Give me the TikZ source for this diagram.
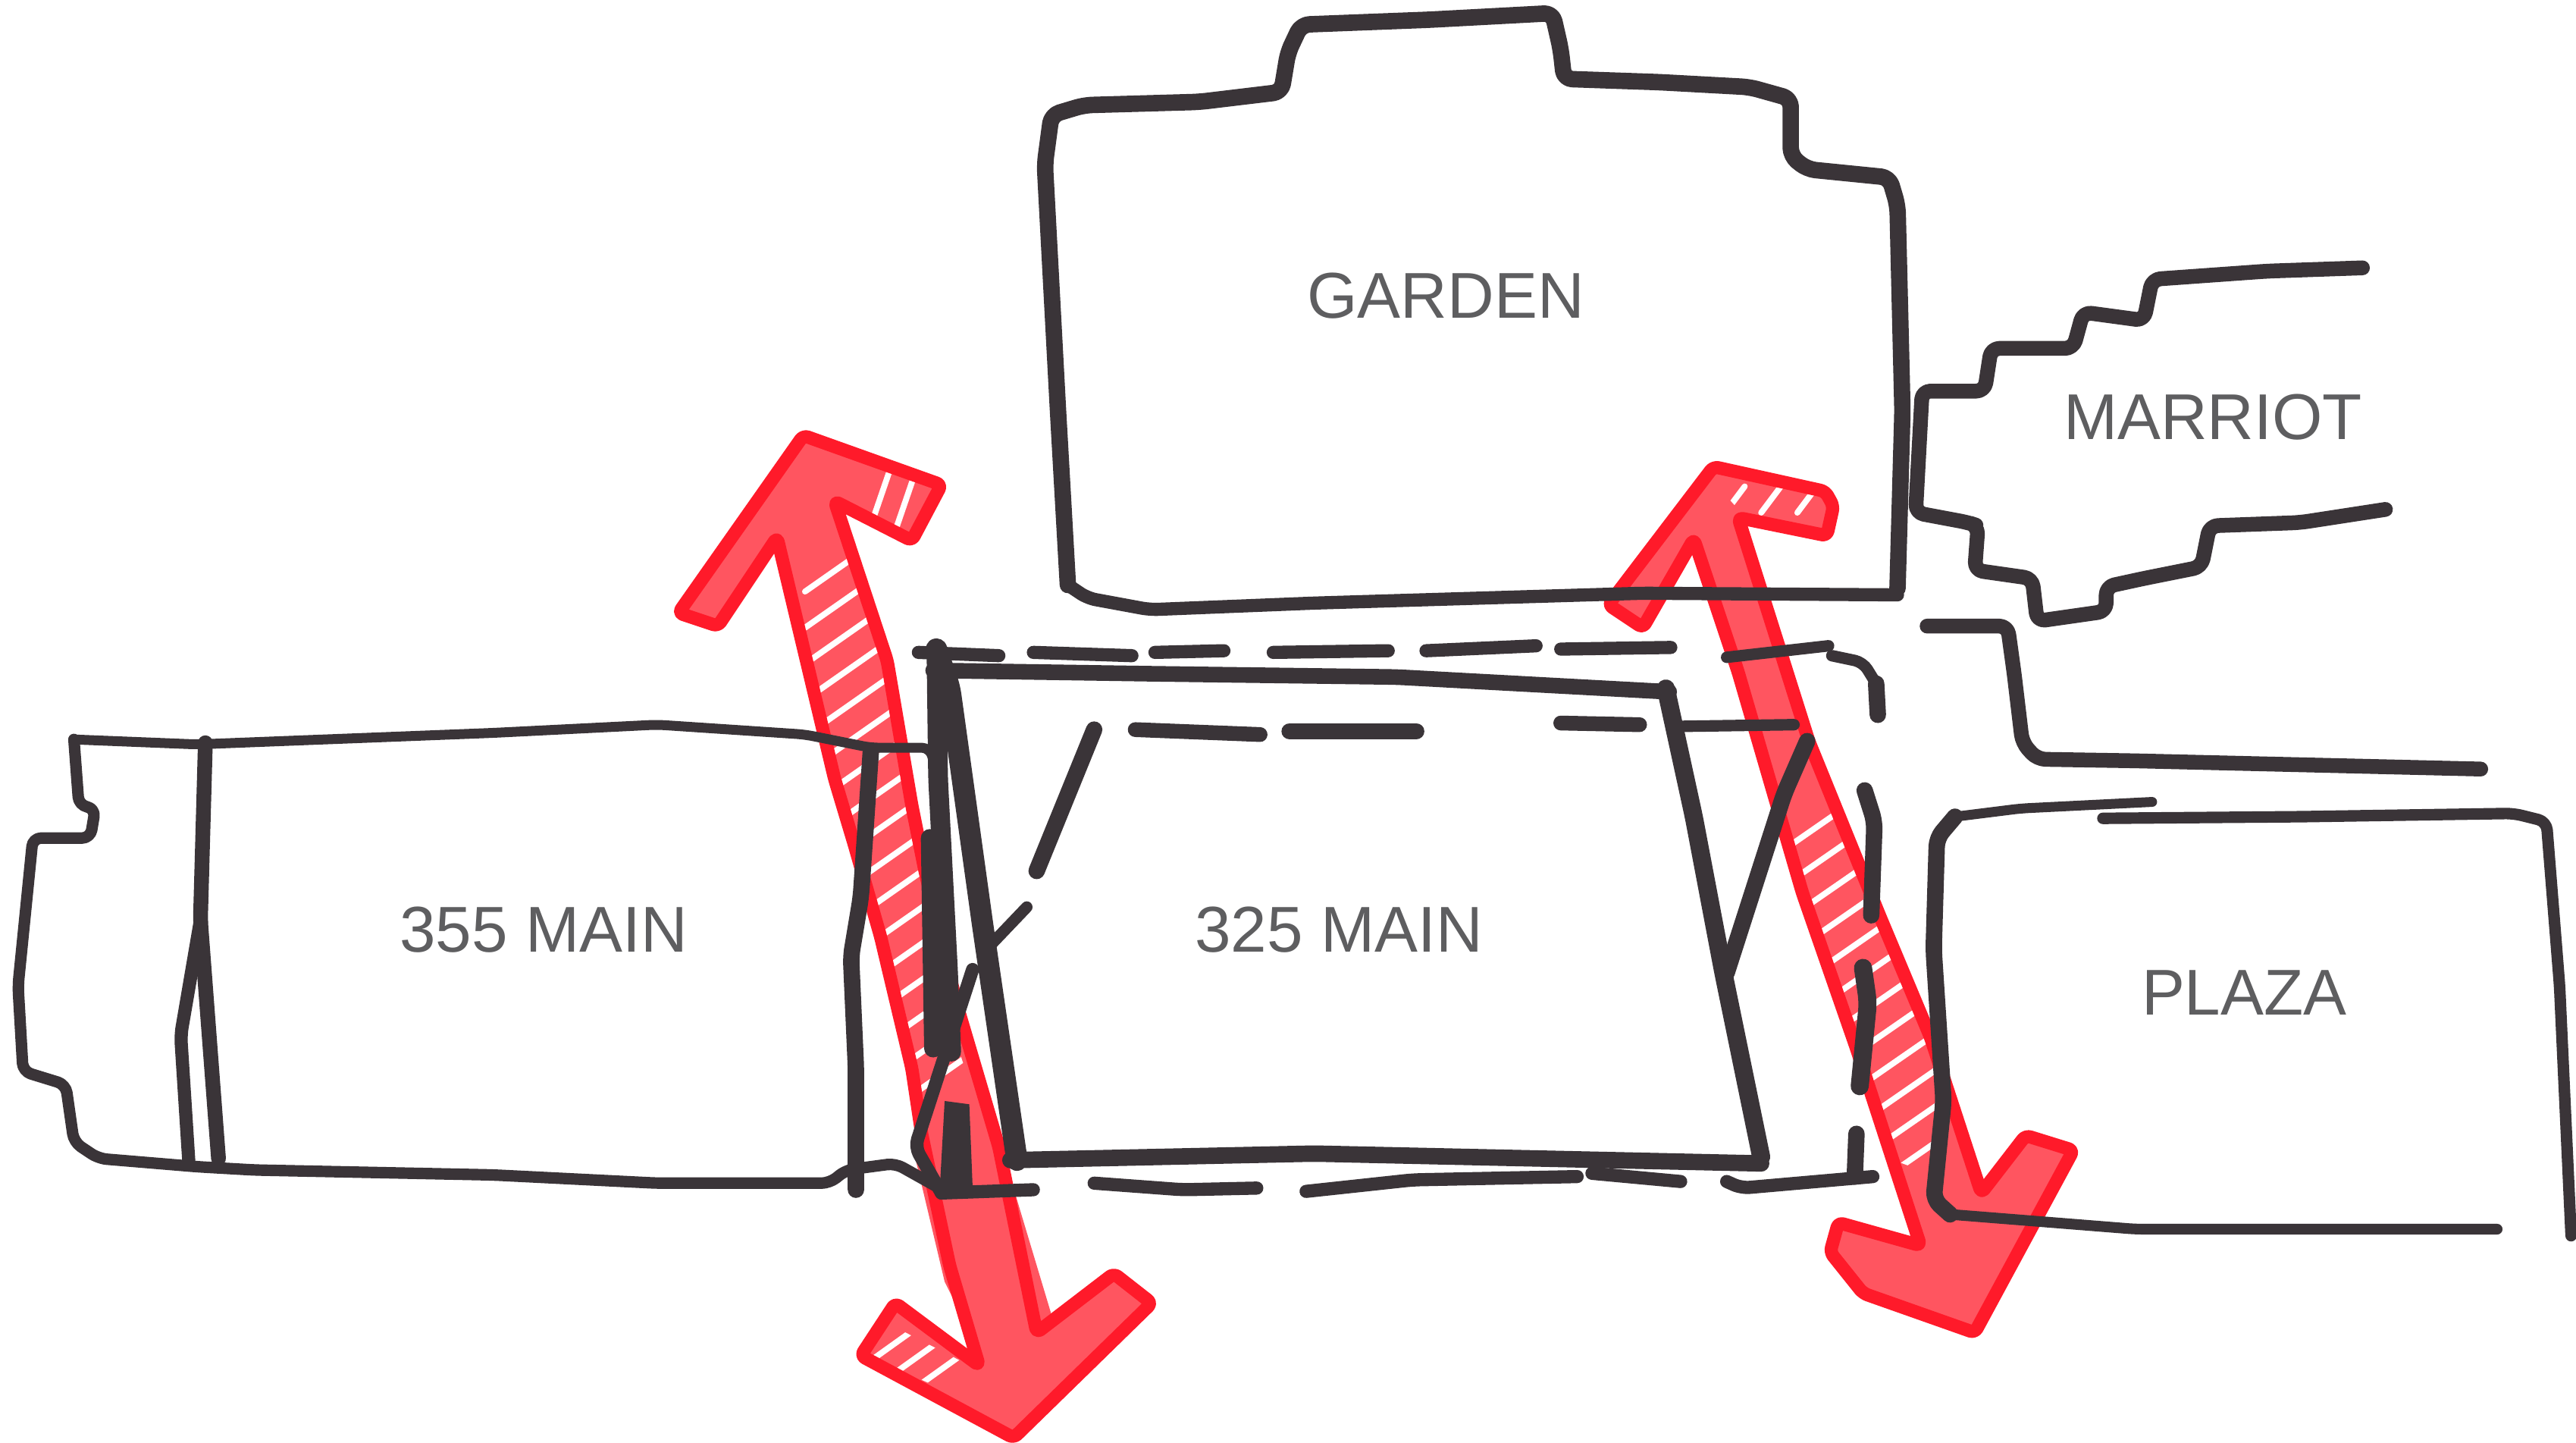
\documentclass[tikz,border=0pt]{standalone}
\usepackage{fontspec}
\setmainfont{Liberation Sans}
\definecolor{inkcol}{HTML}{3A3438}
\definecolor{redline}{HTML}{FF1A2A}
\definecolor{redfill}{HTML}{FF5560}
\definecolor{labelgray}{HTML}{5E5E60}
\tikzset{
  pen/.style={draw=inkcol,line width=#1,line cap=round,line join=round,rounded corners=5pt},
  pen/.default=7pt,
  arrowbody/.style={fill=redfill,draw=none},
  arrowedge/.style={draw=redline,line width=8pt,line join=round,rounded corners=3pt},
  hatchline/.style={draw=white,line width=3.6pt,line cap=round},
  place/.style={text=labelgray,font=\fontsize{39.4pt}{41pt}\selectfont,inner sep=0pt,anchor=center}
}
\begin{document}
\begin{tikzpicture}[x=1pt,y=-1pt]
\useasboundingbox (0,0) rectangle (1568,878);
\fill[white] (0,0) rectangle (1568,878);

% ---- left red arrow
\def\leftarrowpath{(413,373) -- (489,265) -- (573,295) -- (555,329) -- (508,305) -- (540,402) -- (555,490) -- (563,530) -- (582,610) -- (608,698) -- (631,811) -- (678,775) -- (701,793) -- (617,875) -- (524,825) -- (545,793) -- (596,831) -- (578,770) -- (561,690) -- (555,650) -- (536,570) -- (520,514) -- (508,474) -- (473,327) -- (437,381) -- cycle}
\path[arrowbody] \leftarrowpath;
\fill[redfill] (556,700) -- (610,700) -- (640,800) -- (600,830) -- (575,780) -- cycle;
\begin{scope}
  \clip (473,327) -- (508,305) -- (540,402) -- (563,530) -- (584,640) -- (600,690) -- (570,690) -- (557,670) -- (536,582) -- (508,474) -- cycle;
  \foreach \i in {330,352,...,700} {
    \draw[hatchline] (490,\i+30) -- (590,\i-40);
  }
\end{scope}
\begin{scope}
  \clip (530,800) -- (600,836) -- (625,868) -- (530,826) -- cycle;
  \foreach \i in {800,818,...,860} { \draw[hatchline] (530,\i+10) -- (600,\i-40); }
\end{scope}
\begin{scope}
  \clip (510,276) -- (572,295) -- (555,329) -- (520,305) -- cycle;
  \foreach \i in {530,546,...,575} { \draw[hatchline] (\i,320) -- (\i+12,285); }
\end{scope}
\path[arrowedge] \leftarrowpath;

% ---- right red arrow
\def\rightarrowpath{(979,368) -- (1043,284) -- (1111,299) -- (1116,308) -- (1112,326) -- (1058,315) -- (1101,451) -- (1144,557) -- (1175,631) -- (1206,726) -- (1233,691) -- (1262,700) -- (1202,811) -- (1134,787) -- (1114,762) -- (1119,744) -- (1169,758) -- (1130,638) -- (1097,543) -- (1058,409) -- (1031,328) -- (1000,382) -- cycle}
\path[arrowbody] \rightarrowpath;
\begin{scope}
  \clip (1058,400) -- (1101,451) -- (1175,631) -- (1190,720) -- (1150,705) -- (1097,543) -- cycle;
  \foreach \i in {500,522,...,760} {
    \draw[hatchline] (1060,\i+35) -- (1190,\i-55);
  }
\end{scope}
\begin{scope}
  \clip (1040,290) -- (1110,300) -- (1110,322) -- (1060,312) -- cycle;
  \foreach \i in {1050,1072,...,1110} { \draw[hatchline] (\i,312) -- (\i+12,296); }
\end{scope}
\path[arrowedge] \rightarrowpath;

% ---- GARDEN
\draw[pen=8pt] (1155,362) -- (1000,361) -- (800,367) -- (700,371) -- (662,364) -- (650,356);
\draw[pen=10pt] (650,356) -- (644,250) -- (636,100) -- (640,70) -- (660,64) -- (730,62) -- (780,56) -- (784,32) -- (792,15) -- (870,12) -- (945,8) -- (950,30) -- (952,48) -- (1010,50) -- (1065,53) -- (1090,60) -- (1090,95) -- (1100,103) -- (1150,108) -- (1155,125) -- (1158,250) -- (1155,358);

% ---- MARRIOT
\draw[pen=9pt] (1438,163) -- (1380,165) -- (1310,170) -- (1305,195) -- (1268,190) -- (1262,212) -- (1212,212) -- (1208,238) -- (1170,238) -- (1166,312) -- (1198,318) -- (1204,320) -- (1202,347) -- (1237,352) -- (1240,378) -- (1282,372) -- (1282,357) -- (1305,352) -- (1340,345) -- (1345,320) -- (1400,318) -- (1452,310);

% ---- street
\draw[pen=9pt] (1173,381) -- (1222,381) -- (1226,410) -- (1231,452) -- (1240,462) -- (1300,463) -- (1510,468);

% ---- PLAZA
\draw[pen=6pt] (1310,488) -- (1230,492) -- (1190,497);
\draw[pen=10pt] (1190,497) -- (1179,510) -- (1177,578) -- (1183,670) -- (1177,730) -- (1187,739);
\draw[pen=6.5pt] (1187,739) -- (1300,748) -- (1520,748);
\draw[pen=7pt] (1280,498) -- (1400,497) -- (1530,495) -- (1550,500) -- (1558,600) -- (1565,752);

% ---- 355 MAIN
\draw[pen=6pt] (45,450) -- (120,453) -- (300,446) -- (400,441) -- (490,447) -- (530,455) -- (566,455) -- (570,470);
\draw[pen=7pt] (45,450) -- (48,490) -- (58,492) -- (55,510) -- (20,510) -- (11,600) -- (14,652) -- (40,660) -- (45,695) -- (60,705) -- (120,710) -- (155,712) -- (300,715) -- (400,720) -- (505,720) -- (515,712) -- (545,708) -- (570,722);
\draw[pen=9pt] (125,452) -- (122,560) -- (133,705);
\draw[pen=8pt] (122,560) -- (110,630) -- (115,708);
\draw[pen=10pt] (530,458) -- (524,546) -- (518,582) -- (521,650) -- (521,724);

% ---- 325 MAIN
\draw[pen=9.5pt] (568,408) -- (700,410) -- (850,412) -- (1016,421);
\draw[pen=13pt] (570,395) -- (578,418) -- (598,562) -- (619,706);
\draw[pen=12pt] (570,395) -- (571,474) -- (577,590) -- (579,640);
\draw[pen=11pt] (566,510) -- (568,638);
\draw[pen=10pt] (615,706) -- (800,702) -- (1072,708);
\draw[pen=11pt] (1014,419) -- (1031,497) -- (1049,592) -- (1072,704);

% dashes, outer top
\draw[pen=8pt] (559,397) -- (608,399);
\draw[pen=8pt] (629,397) -- (689,399);
\draw[pen=8pt] (703,397) -- (745,396);
\draw[pen=8pt] (775,397) -- (845,396);
\draw[pen=8pt] (868,396) -- (935,393);
\draw[pen=8pt] (950,395) -- (1017,394);
\draw[pen=7pt] (1051,400) -- (1113,393);
\draw[pen=7pt] (1115,399) -- (1134,403) -- (1142,416);
\draw[pen=10pt] (1142,416) -- (1143,435);

% dashes, inner top
\draw[pen=9pt] (691,444) -- (767,447);
\draw[pen=10pt] (785,445) -- (862,445);
\draw[pen=9pt] (950,440) -- (998,441);
\draw[pen=7pt] (1024,442) -- (1092,441);
\draw[pen=10pt] (1100,451) -- (1086,483) -- (1051,592);
\draw[pen=10pt] (666,444) -- (631,530);
\draw[pen=7pt] (625,552) -- (604,574);
\draw[pen=8pt] (592,590) -- (557,698) -- (573,726);
\fill[inkcol] (575,670) -- (590,672) -- (592,722) -- (572,724) -- cycle;

% dashes, bottom
\draw[pen=8pt] (573,726) -- (629,724);
\draw[pen=8pt] (666,720) -- (720,724) -- (765,723);
\draw[pen=8pt] (795,725) -- (860,718) -- (960,716);
\draw[pen=8pt] (969,714) -- (1023,719);
\draw[pen=8pt] (1051,719) -- (1060,723) -- (1140,716);
\draw[pen=10pt] (1130,690) -- (1129,716);

% dashes, right
\draw[pen=10pt] (1135,481) -- (1141,500) -- (1139,557);
\draw[pen=11pt] (1134,589) -- (1137,610) -- (1132,661);

% ---- labels
\node[place] (garden) at (880,180) {GARDEN};
\node[place] (marriot) at (1347,254) {MARRIOT};
\node[place] (main355) at (331,566) {355 MAIN};
\node[place] (main325) at (815,566) {325 MAIN};
\node[place] (plaza) at (1366,604) {PLAZA};
\end{tikzpicture}
\end{document}
